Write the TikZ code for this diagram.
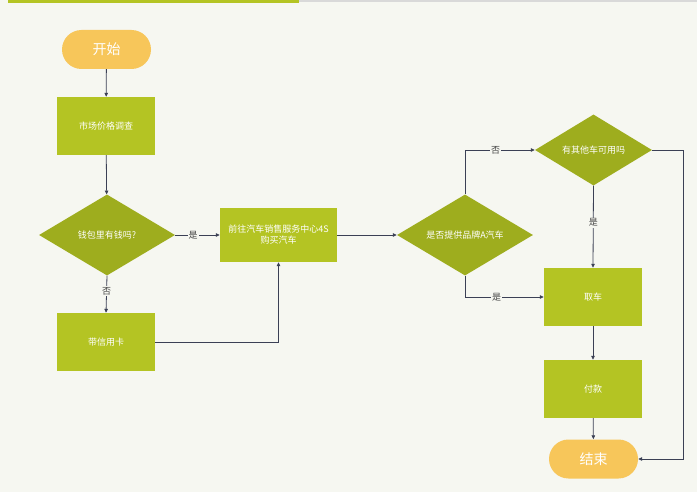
\documentclass[tikz,border=0pt]{standalone}
\usepackage{fontspec}
\setmainfont{Noto Sans CJK SC}
\usetikzlibrary{shapes.geometric,arrows.meta}
\definecolor{bg}{HTML}{F6F7F1}
\definecolor{boxg}{HTML}{B4C423}
\definecolor{diag}{HTML}{9EAD1E}
\definecolor{term}{HTML}{F7C65A}
\definecolor{line}{HTML}{3B4055}
\definecolor{lab}{HTML}{444444}
\tikzset{
  box/.style={rectangle, fill=boxg, minimum width=98pt, minimum height=58pt, inner sep=0pt, text=white, font=\fontsize{9}{11}\selectfont, align=center},
  dec/.style={diamond, fill=diag, aspect=1.68, minimum width=136pt, minimum height=81pt, inner sep=0pt, text=white, font=\fontsize{9}{11}\selectfont},
  term/.style={rounded rectangle, fill=term, minimum width=89pt, minimum height=39pt, inner sep=0pt, text=white, font=\fontsize{14}{16}\selectfont},
  conn/.style={draw=line, line width=0.8pt, -{Triangle[length=4pt,width=3.5pt]}},
  lbl/.style={fill=bg, text=lab, inner sep=1pt, font=\fontsize{9}{11}\selectfont}
}
\usetikzlibrary{shapes.misc}
\begin{document}
\begin{tikzpicture}[x=1pt,y=-1pt]
\fill[bg] (0,0) rectangle (697,492);
\useasboundingbox (0,0) rectangle (697,492);
\fill[black!15] (299,0) rectangle (697,1.6);
\fill[boxg] (8,0) rectangle (299,2.6);
\node[term] (start) at (106.5,49.5) {开始};
\node[box] (survey) at (106,126) {市场价格调查};
\node[dec] (money) at (107,235) {钱包里有钱吗?};
\node[box] (card) at (106,342) {带信用卡};
\node[box, minimum width=117pt, minimum height=54pt] (go) at (278.5,235) {前往汽车销售服务中心4S\\购买汽车};
\node[dec] (brand) at (465,235) {是否提供品牌A汽车};
\node[dec, minimum width=117pt, minimum height=71pt] (other) at (593.5,150) {有其他车可用吗};
\node[box] (pick) at (593,297) {取车};
\node[box] (pay) at (593,389) {付款};
\node[term] (end) at (593.5,459) {结束};
\coordinate (c1) at (683,150);
\draw[conn] (start) -- (survey);
\draw[conn] (survey) -- (money);
\draw[conn] (money.east) -- node[lbl, pos=0.4] {是} (go.west);
\draw[conn] (money.south) -- node[lbl, pos=0.42] {否} (card.north);
\draw[conn] (card.east) -| (go.south);
\draw[conn] (go.east) -- (brand.west);
\draw[conn] (brand.north) |- node[lbl, pos=0.72] {否} (other.west);
\draw[conn] (brand.south) |- node[lbl, pos=0.7] {是} (pick.west);
\draw[conn] (other.south) -- node[lbl, pos=0.45] {是} (pick.north);
\draw[conn] (pick) -- (pay);
\draw[conn] (pay) -- (end);
\draw[conn] (other.east) -- (c1) |- (end.east);
\end{tikzpicture}
\end{document}
